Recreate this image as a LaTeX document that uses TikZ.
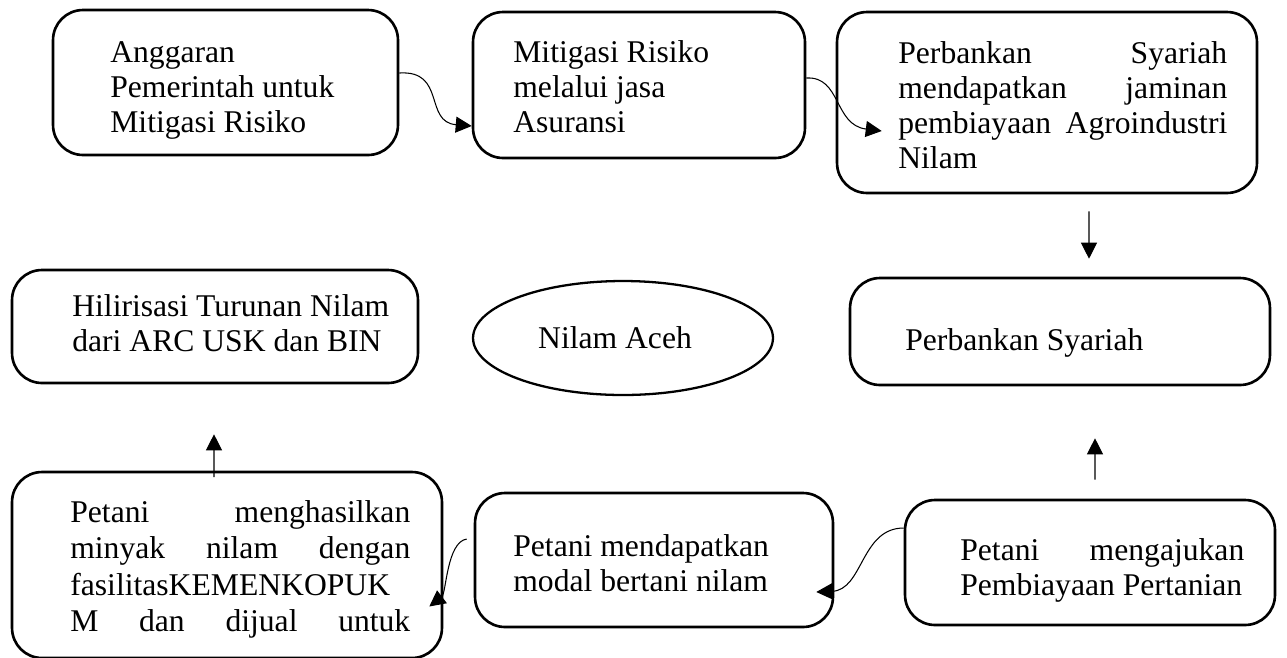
\documentclass[tikz,border=0pt]{standalone}
\usepackage{fontspec}
\setmainfont{Liberation Serif}
\usetikzlibrary{arrows.meta,shapes.geometric}
\newcommand{\jline}[2]{\makebox[#1][s]{#2}}
\begin{document}
\begin{tikzpicture}[x=0.02cm,y=-0.02cm,
  box/.style={draw, rounded corners=0.6cm, line width=1.5pt, inner sep=0pt},
  txt/.style={anchor=north west, inner sep=0pt, align=left, font=\fontsize{18pt}{20pt}\selectfont},
  arr/.style={line width=0.6pt, -{Triangle[length=0.32cm,width=0.32cm]}}]
\useasboundingbox (0,0) rectangle (1287,657);
% boxes
\node[box, minimum width=6.9cm,  minimum height=2.9cm]  (b1) at (225.5,82.5) {};
\node[box, minimum width=6.64cm, minimum height=2.92cm] (b2) at (639,85) {};
\node[box, minimum width=8.4cm,  minimum height=3.62cm] (b3) at (1047,102.5) {};
\node[box, minimum width=8.12cm, minimum height=2.26cm] (b4) at (215,326.5) {};
\node[draw, ellipse, line width=1.3pt, inner sep=0pt, minimum width=6cm, minimum height=2.28cm,
      font=\fontsize{18pt}{20pt}\selectfont] (e) at (623,338) {Nilam Aceh\kern0.32cm};
\node[box, minimum width=8.4cm,  minimum height=2.14cm] (b5) at (1060,331.5) {};
\node[box, minimum width=8.6cm,  minimum height=3.72cm] (b6) at (227,565) {};
\node[box, minimum width=7.16cm, minimum height=2.68cm] (b7) at (654,560) {};
\node[box, minimum width=7.4cm,  minimum height=2.5cm]  (b8) at (1090,562.5) {};
% texts
\node[txt] (t1) at (110,37.4) {\strut Anggaran\\Pemerintah untuk\\Mitigasi Risiko};
\node[txt] (t2) at (513,37.4) {\strut Mitigasi Risiko\\melalui jasa\\Asuransi};
\node[txt] (t3) at (898,38.4) {\strut\jline{6.58cm}{Perbankan Syariah}\\\jline{6.58cm}{mendapatkan jaminan}\\\jline{6.58cm}{pembiayaan Agroindustri}\\Nilam};
\node[txt] (t4) at (72,291.4) {\strut Hilirisasi Turunan Nilam\\dari ARC USK dan BIN};
\node[txt] (t5) at (905,325.4) {\strut Perbankan Syariah};
\node[txt, font=\fontsize{18pt}{20.8pt}\selectfont] (t6) at (70,496.4) {\strut\jline{6.8cm}{Petani menghasilkan}\\\jline{6.8cm}{minyak nilam dengan}\\fasilitasKEMENKOPUK\\\jline{6.8cm}{M dan dijual untuk}};
\node[txt] (t7) at (513,531.4) {\strut Petani mendapatkan\\modal bertani nilam};
\node[txt] (t8) at (960,535.4) {\strut\jline{5.68cm}{Petani mengajukan}\\Pembiayaan Pertanian};
% connectors
\draw[arr] ([yshift=0.19cm]b1.east) .. controls +(47,-3) and +(-48,-4) .. ([yshift=-0.82cm]b2.west);
\draw[arr] ([yshift=0.14cm]b2.east) .. controls +(35,-2) and +(-48,-6) .. ([xshift=0.92cm,yshift=-0.57cm]b3.west);
\draw[arr] ([xshift=0.84cm,yshift=-0.34cm]b3.south) -- ([xshift=0.58cm,yshift=0.36cm]b5.north);
\draw[arr] ([xshift=0.1cm,yshift=0.38cm]b8.north) -- ([xshift=0.7cm,yshift=-1.04cm]b5.south);
\draw[arr] ([xshift=-0.26cm,yshift=-0.13cm]b6.north) -- ([xshift=-0.02cm,yshift=-1.0cm]b4.south);
\draw[arr] ([yshift=0.69cm]b8.west) .. controls +(-43,0) and +(47,-2) .. ([xshift=-0.36cm,yshift=-0.64cm]b7.east);
\draw[arr] ([xshift=-0.14cm,yshift=0.42cm]b7.west) .. controls +(-20,3) and +(17,-13) .. ([xshift=-0.28cm,yshift=-0.83cm]b6.east);
\end{tikzpicture}
\end{document}
